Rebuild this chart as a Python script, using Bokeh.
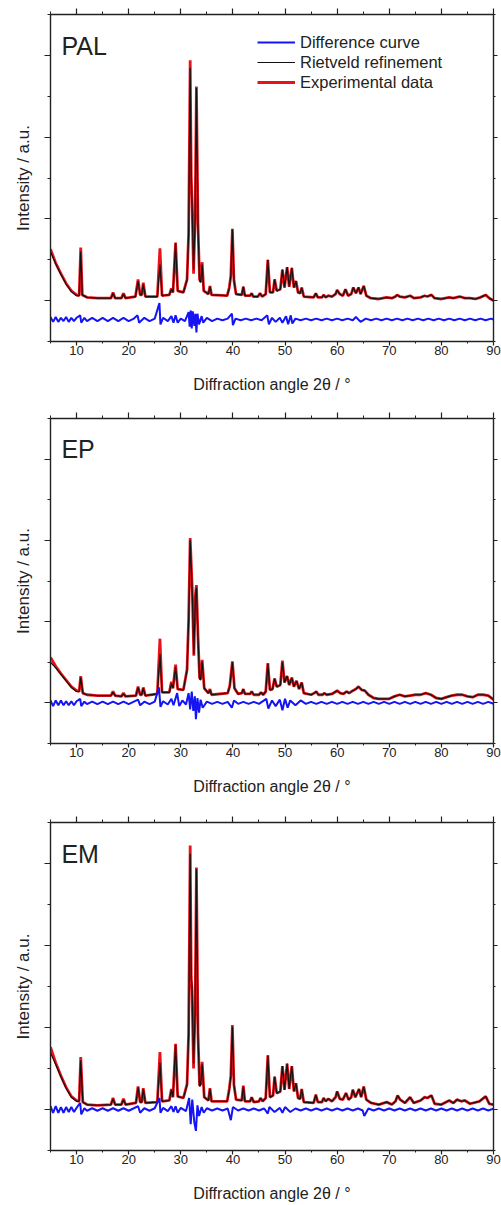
from bokeh.plotting import figure
from bokeh.models import Range1d, FixedTicker, LinearAxis, Label, Legend, LegendItem
from bokeh.layouts import column
from bokeh.embed import file_html
from bokeh.resources import INLINE

# ---------------- axis ticks ----------------
x_major = [10, 20, 30, 40, 50, 60, 70, 80, 90]
x_minor = [5, 15, 25, 35, 45, 55, 65, 75, 85]
y_major = [0, 1, 2, 3]
y_minor = [-0.5, 0.5, 1.5, 2.5, 3.5]

# ---------------- PAL ----------------
pal_x = [5.0, 6.0, 7.0, 8.0, 9.0, 10.0, 10.5, 10.8, 11.1, 12.0,
         14.0, 16.6, 17.0, 17.4, 18.6, 19.0, 19.4, 21.3, 21.8, 22.2,
         22.5, 22.8, 23.2, 25.5, 26.0, 26.4, 27.8, 28.2, 28.5, 29.0,
         29.4, 30.5, 31.2, 31.5, 31.8, 32.0, 32.15, 32.45, 32.75, 33.0,
         33.3, 33.6, 33.8, 34.1, 34.4, 35.3, 35.6, 35.9, 38.9, 39.3,
         39.6, 39.9, 40.2, 40.6, 41.7, 42.0, 42.3, 43.3, 43.6, 43.9,
         44.8, 45.2, 45.6, 46.3, 46.7, 47.1, 47.7, 48.0, 48.4, 49.1,
         49.5, 49.9, 50.4, 50.8, 51.3, 51.7, 52.1, 52.5, 52.9, 53.2,
         53.6, 55.5, 55.9, 56.3, 57.1, 57.4, 57.8, 58.3, 59.0, 59.7,
         60.0, 60.5, 61.1, 61.6, 62.1, 62.7, 63.1, 63.6, 64.1, 64.5,
         65.1, 65.6, 66.5, 68.0, 69.5, 70.5, 71.2, 71.5, 72.0, 73.0,
         74.0, 74.8, 76.0, 76.8, 77.3, 78.1, 78.7, 80.0, 81.5, 82.3,
         83.5, 84.5, 85.5, 86.5, 87.5, 88.5, 89.2, 90.0]
pal_calc = [0.60, 0.45, 0.32, 0.20, 0.11, 0.06, 0.06, 0.60, 0.07, 0.04,
            0.03, 0.03, 0.09, 0.03, 0.03, 0.08, 0.03, 0.05, 0.24, 0.07,
            0.07, 0.20, 0.05, 0.05, 0.44, 0.06, 0.07, 0.14, 0.10, 0.70,
            0.12, 0.10, 0.25, 0.80, 2.85, 1.50, 1.20, 0.38, 1.00, 2.60,
            0.90, 0.25, 0.22, 0.44, 0.12, 0.08, 0.17, 0.07, 0.06, 0.15,
            0.30, 0.87, 0.25, 0.08, 0.07, 0.17, 0.06, 0.06, 0.09, 0.05,
            0.05, 0.09, 0.05, 0.08, 0.50, 0.10, 0.10, 0.26, 0.12, 0.14,
            0.38, 0.16, 0.41, 0.17, 0.40, 0.16, 0.24, 0.10, 0.09, 0.16,
            0.05, 0.04, 0.09, 0.04, 0.04, 0.07, 0.04, 0.06, 0.05, 0.08,
            0.13, 0.08, 0.06, 0.14, 0.06, 0.08, 0.16, 0.09, 0.16, 0.08,
            0.18, 0.06, 0.03, 0.02, 0.04, 0.03, 0.05, 0.07, 0.05, 0.04,
            0.06, 0.03, 0.04, 0.06, 0.05, 0.07, 0.03, 0.02, 0.04, 0.03,
            0.05, 0.03, 0.03, 0.02, 0.04, 0.07, 0.03, 0.00]
pal_exp = [0.63, 0.46, 0.33, 0.21, 0.12, 0.07, 0.06, 0.65, 0.07, 0.04,
           0.03, 0.03, 0.10, 0.03, 0.03, 0.09, 0.03, 0.05, 0.26, 0.07,
           0.07, 0.22, 0.05, 0.05, 0.64, 0.06, 0.07, 0.15, 0.10, 0.71,
           0.12, 0.10, 0.26, 0.82, 2.94, 1.52, 1.25, 0.33, 1.02, 2.62,
           0.92, 0.26, 0.23, 0.47, 0.12, 0.08, 0.18, 0.07, 0.06, 0.16,
           0.30, 0.88, 0.25, 0.08, 0.07, 0.17, 0.06, 0.06, 0.09, 0.05,
           0.05, 0.09, 0.05, 0.08, 0.50, 0.10, 0.10, 0.26, 0.12, 0.14,
           0.38, 0.16, 0.41, 0.17, 0.40, 0.16, 0.24, 0.10, 0.09, 0.16,
           0.05, 0.04, 0.09, 0.04, 0.04, 0.07, 0.04, 0.06, 0.05, 0.08,
           0.13, 0.08, 0.06, 0.14, 0.06, 0.08, 0.16, 0.09, 0.16, 0.08,
           0.18, 0.06, 0.03, 0.02, 0.04, 0.03, 0.05, 0.07, 0.05, 0.04,
           0.06, 0.03, 0.04, 0.06, 0.05, 0.07, 0.03, 0.02, 0.04, 0.03,
           0.05, 0.03, 0.03, 0.02, 0.04, 0.07, 0.03, 0.00]
pal_diff_x = [5.0, 5.5, 6.0, 6.5, 7.0, 7.5, 8.0, 8.5, 9.0, 9.5,
              10.0, 10.7, 10.9, 11.5, 12.0, 13.0, 14.0, 15.0, 16.0, 17.0,
              18.0, 19.0, 20.0, 21.0, 21.7, 22.0, 23.0, 24.0, 25.0, 25.9,
              26.1, 26.6, 27.5, 28.2, 28.6, 29.0, 29.4, 30.0, 30.8, 31.5,
              31.7, 31.9, 32.1, 32.3, 32.6, 32.8, 33.0, 33.2, 33.5, 34.0,
              34.3, 35.0, 36.0, 37.0, 38.0, 39.0, 39.8, 40.0, 40.5, 41.5,
              42.5, 43.5, 44.5, 45.5, 46.6, 46.9, 47.5, 48.2, 49.0, 49.5,
              50.2, 50.6, 51.1, 51.4, 52.0, 53.0, 54.0, 55.0, 56.0, 57.0,
              58.0, 59.0, 60.0, 61.0, 62.0, 63.0, 63.6, 64.5, 65.5, 66.5,
              67.5, 68.5, 69.5, 70.5, 71.5, 72.5, 73.5, 74.5, 75.5, 76.5,
              77.5, 78.5, 79.5, 80.5, 81.5, 82.5, 83.5, 84.5, 85.5, 86.5,
              87.5, 88.5, 89.5, 90.0]
pal_diff = [-0.20, -0.26, -0.20, -0.26, -0.21, -0.25, -0.20, -0.26, -0.21, -0.25,
            -0.21, -0.18, -0.27, -0.21, -0.25, -0.21, -0.25, -0.21, -0.25, -0.21,
            -0.25, -0.21, -0.25, -0.22, -0.18, -0.27, -0.21, -0.25, -0.22, -0.03,
            -0.29, -0.21, -0.25, -0.19, -0.27, -0.18, -0.27, -0.22, -0.25, -0.14,
            -0.32, -0.12, -0.34, -0.13, -0.31, -0.16, -0.39, -0.16, -0.29, -0.19,
            -0.27, -0.21, -0.25, -0.22, -0.24, -0.22, -0.16, -0.30, -0.22, -0.24,
            -0.22, -0.24, -0.22, -0.24, -0.18, -0.29, -0.21, -0.26, -0.21, -0.27,
            -0.19, -0.29, -0.18, -0.28, -0.22, -0.24, -0.22, -0.24, -0.22, -0.24,
            -0.22, -0.24, -0.22, -0.24, -0.22, -0.24, -0.20, -0.26, -0.22, -0.24,
            -0.22, -0.24, -0.22, -0.24, -0.22, -0.24, -0.22, -0.24, -0.22, -0.24,
            -0.22, -0.24, -0.22, -0.24, -0.22, -0.24, -0.22, -0.24, -0.22, -0.24,
            -0.22, -0.24, -0.22, -0.23]

# ---------------- EP ----------------
ep_x = [5.0, 6.0, 7.0, 8.0, 9.0, 10.0, 10.5, 10.8, 11.2, 12.0,
        14.0, 16.6, 17.0, 17.4, 18.6, 19.0, 19.4, 21.4, 21.8, 22.2,
        22.5, 22.8, 23.2, 25.5, 26.0, 26.4, 27.8, 28.2, 28.5, 29.0,
        29.4, 30.5, 31.2, 31.5, 31.8, 32.2, 32.5, 32.8, 33.0, 33.3,
        33.6, 33.8, 34.1, 34.5, 35.3, 35.6, 35.9, 39.0, 39.4, 39.9,
        40.3, 41.0, 41.7, 42.0, 42.3, 43.3, 43.6, 44.0, 45.0, 45.4,
        45.8, 46.3, 46.7, 47.1, 47.6, 48.0, 48.4, 49.1, 49.5, 49.9,
        50.4, 50.8, 51.3, 51.7, 52.2, 52.7, 53.2, 53.6, 55.0, 55.6,
        56.0, 56.4, 57.2, 57.5, 58.0, 59.0, 60.0, 60.6, 61.2, 61.8,
        62.3, 63.0, 63.6, 64.1, 64.7, 65.3, 66.0, 67.0, 68.0, 70.0,
        71.0, 72.0, 73.0, 74.0, 75.0, 76.0, 77.0, 78.0, 79.0, 80.0,
        81.0, 82.0, 83.0, 84.0, 85.0, 86.0, 87.0, 88.0, 89.0, 90.0]
ep_calc = [0.50, 0.43, 0.35, 0.27, 0.19, 0.14, 0.14, 0.31, 0.12, 0.10,
           0.09, 0.09, 0.13, 0.09, 0.08, 0.11, 0.08, 0.09, 0.19, 0.10,
           0.10, 0.18, 0.09, 0.11, 0.60, 0.13, 0.13, 0.24, 0.18, 0.44,
           0.17, 0.16, 0.40, 1.00, 2.00, 1.35, 0.60, 1.30, 1.42, 0.80,
           0.30, 0.28, 0.51, 0.18, 0.12, 0.16, 0.10, 0.12, 0.20, 0.50,
           0.18, 0.11, 0.12, 0.17, 0.11, 0.11, 0.14, 0.10, 0.10, 0.13,
           0.10, 0.14, 0.48, 0.16, 0.17, 0.30, 0.20, 0.22, 0.50, 0.25,
           0.33, 0.22, 0.31, 0.20, 0.27, 0.17, 0.25, 0.12, 0.10, 0.12,
           0.14, 0.10, 0.10, 0.12, 0.10, 0.11, 0.15, 0.12, 0.11, 0.14,
           0.12, 0.15, 0.17, 0.20, 0.16, 0.15, 0.10, 0.06, 0.05, 0.05,
           0.08, 0.10, 0.08, 0.09, 0.10, 0.10, 0.12, 0.10, 0.06, 0.05,
           0.07, 0.09, 0.10, 0.10, 0.08, 0.07, 0.10, 0.10, 0.09, 0.04]
ep_exp = [0.56, 0.45, 0.36, 0.28, 0.20, 0.15, 0.14, 0.33, 0.12, 0.10,
          0.09, 0.09, 0.14, 0.09, 0.08, 0.12, 0.08, 0.09, 0.20, 0.10,
          0.10, 0.19, 0.09, 0.11, 0.79, 0.13, 0.13, 0.26, 0.18, 0.47,
          0.17, 0.16, 0.41, 1.02, 2.03, 1.40, 0.58, 1.33, 1.45, 0.82,
          0.31, 0.29, 0.53, 0.18, 0.12, 0.17, 0.10, 0.12, 0.21, 0.51,
          0.18, 0.11, 0.12, 0.17, 0.11, 0.11, 0.14, 0.10, 0.10, 0.13,
          0.10, 0.14, 0.49, 0.16, 0.17, 0.30, 0.20, 0.22, 0.52, 0.25,
          0.33, 0.22, 0.31, 0.20, 0.27, 0.17, 0.25, 0.12, 0.10, 0.12,
          0.14, 0.10, 0.10, 0.12, 0.10, 0.11, 0.15, 0.12, 0.11, 0.14,
          0.12, 0.15, 0.17, 0.20, 0.16, 0.15, 0.10, 0.06, 0.05, 0.05,
          0.08, 0.10, 0.08, 0.09, 0.10, 0.10, 0.12, 0.10, 0.06, 0.05,
          0.07, 0.09, 0.10, 0.10, 0.08, 0.07, 0.10, 0.10, 0.09, 0.04]
ep_diff_x = [5.0, 5.5, 6.0, 6.5, 7.0, 7.5, 8.0, 8.5, 9.0, 9.5,
             10.0, 10.7, 10.9, 11.5, 12.0, 13.0, 14.0, 15.0, 16.0, 17.0,
             18.0, 19.0, 20.0, 21.0, 21.8, 22.2, 23.0, 24.0, 25.0, 25.8,
             26.1, 26.6, 27.5, 28.2, 28.6, 29.3, 29.7, 30.3, 31.0, 31.5,
             31.8, 32.1, 32.4, 32.7, 32.9, 33.2, 33.5, 33.8, 34.2, 35.0,
             36.0, 37.0, 38.0, 39.0, 39.8, 40.2, 41.0, 42.0, 43.0, 44.0,
             45.0, 46.4, 46.8, 47.5, 48.2, 49.0, 49.5, 50.0, 50.5, 51.0,
             52.0, 53.0, 54.0, 55.0, 56.0, 57.0, 58.0, 59.0, 60.0, 61.0,
             62.0, 63.0, 64.0, 65.0, 66.0, 67.0, 68.0, 69.0, 70.0, 71.0,
             72.0, 73.0, 74.0, 75.0, 76.0, 77.0, 78.0, 79.0, 80.0, 81.0,
             82.0, 83.0, 84.0, 85.0, 86.0, 87.0, 88.0, 89.0, 90.0]
ep_diff = [0.03, -0.04, 0.03, -0.03, 0.03, -0.03, 0.02, -0.03, 0.02, -0.03,
           0.02, 0.05, -0.04, 0.015, -0.015, 0.015, -0.015, 0.015, -0.015, 0.015,
           -0.015, 0.015, -0.015, 0.015, 0.04, -0.03, 0.015, -0.015, 0.015, 0.19,
           -0.05, 0.02, -0.02, 0.05, -0.03, 0.12, -0.04, 0.03, -0.02, 0.12,
           -0.08, 0.14, -0.10, 0.08, -0.20, 0.06, -0.12, 0.04, -0.06, 0.015,
           -0.012, 0.012, -0.012, 0.012, -0.06, 0.03, -0.012, 0.012, -0.012, 0.012,
           -0.012, 0.05, -0.07, 0.03, -0.04, 0.04, -0.09, 0.05, -0.06, 0.03,
           -0.03, 0.03, -0.012, 0.012, -0.012, 0.012, -0.012, 0.012, -0.012, 0.012,
           -0.012, 0.012, -0.012, 0.012, -0.012, 0.012, -0.012, 0.012, -0.012, 0.012,
           -0.012, 0.012, -0.012, 0.012, -0.012, 0.012, -0.012, 0.012, -0.012, 0.012,
           -0.012, 0.012, -0.012, 0.012, -0.012, 0.012, -0.012, 0.012, -0.01]

# ---------------- EM ----------------
em_x = [5.0, 6.0, 7.0, 8.0, 9.0, 10.0, 10.5, 10.8, 11.2, 12.0,
        14.0, 16.6, 17.0, 17.4, 18.6, 19.0, 19.4, 21.4, 21.8, 22.2,
        22.5, 22.8, 23.2, 25.5, 26.0, 26.4, 27.8, 28.2, 28.5, 29.0,
        29.4, 30.5, 31.2, 31.5, 31.8, 32.0, 32.15, 32.45, 32.75, 33.0,
        33.3, 33.6, 33.8, 34.1, 34.5, 35.3, 35.6, 35.9, 38.9, 39.3,
        39.6, 39.9, 40.2, 40.6, 41.7, 42.0, 42.3, 43.3, 43.6, 44.0,
        45.0, 45.3, 45.7, 46.3, 46.7, 47.1, 47.7, 48.0, 48.4, 49.1,
        49.5, 49.9, 50.4, 50.8, 51.3, 51.7, 52.1, 52.5, 52.9, 53.2,
        53.6, 55.5, 55.9, 56.3, 57.1, 57.4, 57.8, 58.3, 59.0, 59.7,
        60.0, 60.5, 61.1, 61.7, 62.2, 62.7, 63.0, 63.5, 64.2, 64.6,
        65.1, 65.6, 66.5, 68.0, 69.5, 70.5, 71.2, 71.6, 72.1, 73.0,
        74.0, 74.7, 76.0, 76.8, 77.3, 78.1, 78.7, 80.0, 81.5, 82.3,
        83.0, 83.8, 84.5, 85.5, 87.3, 88.5, 89.2, 90.0]
em_calc = [0.69, 0.55, 0.40, 0.26, 0.15, 0.10, 0.10, 0.60, 0.09, 0.06,
           0.05, 0.06, 0.13, 0.06, 0.06, 0.12, 0.06, 0.08, 0.27, 0.09,
           0.09, 0.25, 0.08, 0.09, 0.57, 0.10, 0.11, 0.24, 0.15, 0.79,
           0.16, 0.14, 0.30, 0.90, 3.12, 1.60, 1.50, 0.56, 1.20, 2.93,
           0.90, 0.28, 0.30, 0.55, 0.15, 0.11, 0.25, 0.10, 0.10, 0.24,
           0.40, 1.01, 0.30, 0.12, 0.11, 0.28, 0.10, 0.10, 0.15, 0.09,
           0.10, 0.14, 0.10, 0.14, 0.66, 0.15, 0.17, 0.40, 0.20, 0.22,
           0.53, 0.24, 0.56, 0.25, 0.53, 0.22, 0.32, 0.14, 0.13, 0.25,
           0.09, 0.08, 0.18, 0.09, 0.09, 0.14, 0.10, 0.13, 0.10, 0.15,
           0.22, 0.13, 0.12, 0.20, 0.12, 0.15, 0.24, 0.15, 0.25, 0.15,
           0.28, 0.12, 0.08, 0.06, 0.09, 0.06, 0.10, 0.17, 0.12, 0.08,
           0.15, 0.08, 0.11, 0.15, 0.14, 0.17, 0.07, 0.06, 0.11, 0.08,
           0.12, 0.10, 0.11, 0.07, 0.10, 0.16, 0.07, 0.06]
em_exp = [0.76, 0.57, 0.41, 0.27, 0.16, 0.11, 0.10, 0.64, 0.09, 0.06,
          0.05, 0.06, 0.14, 0.06, 0.06, 0.13, 0.06, 0.08, 0.28, 0.09,
          0.09, 0.26, 0.08, 0.09, 0.70, 0.10, 0.11, 0.25, 0.15, 0.80,
          0.16, 0.14, 0.31, 0.92, 3.22, 1.62, 1.45, 0.50, 1.22, 2.95,
          0.92, 0.29, 0.31, 0.58, 0.15, 0.11, 0.26, 0.10, 0.10, 0.25,
          0.41, 1.03, 0.30, 0.12, 0.11, 0.29, 0.10, 0.10, 0.15, 0.09,
          0.10, 0.14, 0.10, 0.14, 0.66, 0.15, 0.17, 0.40, 0.20, 0.22,
          0.53, 0.24, 0.56, 0.25, 0.53, 0.22, 0.32, 0.14, 0.13, 0.25,
          0.09, 0.08, 0.18, 0.09, 0.09, 0.14, 0.10, 0.13, 0.10, 0.15,
          0.22, 0.13, 0.12, 0.20, 0.12, 0.15, 0.24, 0.15, 0.25, 0.15,
          0.28, 0.12, 0.08, 0.06, 0.09, 0.06, 0.10, 0.17, 0.12, 0.08,
          0.15, 0.08, 0.11, 0.15, 0.14, 0.17, 0.07, 0.06, 0.11, 0.08,
          0.12, 0.10, 0.11, 0.07, 0.10, 0.16, 0.07, 0.06]
em_diff_x = [5.0, 5.5, 6.0, 6.5, 7.0, 7.5, 8.0, 8.5, 9.0, 9.5,
             10.0, 10.7, 10.9, 11.5, 12.0, 13.0, 14.0, 15.0, 16.0, 17.0,
             18.0, 19.0, 20.0, 21.0, 21.8, 22.2, 23.0, 24.0, 25.0, 25.9,
             26.1, 26.6, 27.5, 28.2, 28.6, 29.0, 29.4, 30.0, 31.0, 31.6,
             31.9, 32.2, 32.6, 32.9, 33.2, 33.5, 34.0, 34.4, 35.0, 36.0,
             37.0, 38.0, 39.0, 39.6, 40.0, 41.0, 42.0, 43.0, 44.0, 45.0,
             46.0, 46.7, 47.0, 48.0, 49.0, 49.5, 50.0, 51.0, 52.0, 53.0,
             54.0, 55.0, 56.0, 57.0, 58.0, 59.0, 60.0, 61.0, 62.0, 63.0,
             64.0, 64.9, 65.2, 66.0, 67.0, 68.0, 69.0, 70.0, 71.0, 72.0,
             73.0, 74.0, 75.0, 76.0, 77.0, 78.0, 79.0, 80.0, 81.0, 82.0,
             83.0, 84.0, 85.0, 86.0, 87.0, 88.0, 89.0, 90.0]
em_diff = [0.04, -0.04, 0.04, -0.04, 0.03, -0.04, 0.03, -0.03, 0.03, -0.03,
           0.02, 0.08, -0.06, 0.015, -0.015, 0.015, -0.015, 0.015, -0.015, 0.015,
           -0.015, 0.015, -0.015, 0.015, 0.04, -0.04, 0.015, -0.015, 0.015, 0.14,
           -0.04, 0.02, -0.02, 0.04, -0.03, 0.04, -0.04, 0.02, -0.02, 0.14,
           -0.18, 0.12, -0.16, -0.26, 0.05, -0.08, 0.03, -0.04, 0.015, -0.012,
           0.012, -0.012, 0.012, -0.13, 0.03, -0.012, 0.012, -0.012, 0.012, -0.012,
           0.012, -0.05, 0.03, -0.03, 0.02, -0.04, 0.03, -0.03, 0.012, -0.012,
           0.012, -0.012, 0.012, -0.012, 0.012, -0.012, 0.012, -0.012, 0.012, -0.012,
           0.012, -0.012, -0.08, 0.012, -0.012, 0.012, -0.012, 0.012, -0.012, 0.012,
           -0.012, 0.012, -0.012, 0.012, -0.012, 0.012, -0.012, 0.012, -0.012, 0.012,
           -0.012, 0.012, -0.012, 0.012, -0.012, 0.012, -0.012, 0.01]

assert len(pal_x) == len(pal_calc) == len(pal_exp)
assert len(pal_diff_x) == len(pal_diff)
assert len(ep_x) == len(ep_calc) == len(ep_exp)
assert len(ep_diff_x) == len(ep_diff)
assert len(em_x) == len(em_calc) == len(em_exp)
assert len(em_diff_x) == len(em_diff)

FONT = "Liberation Sans"
INK = "#222222"
RED = "#e8121a"
BLACK = "#111111"
BLUE = "#1414f5"


def style_axis(ax, labels=True, tick_out=6, minor_out=3):
    ax.axis_line_color = INK
    ax.axis_line_width = 1.4
    ax.major_tick_line_color = INK
    ax.major_tick_line_width = 1.2
    ax.minor_tick_line_color = INK
    ax.minor_tick_line_width = 1.0
    ax.major_tick_in = 0
    ax.major_tick_out = tick_out
    ax.minor_tick_in = 0
    ax.minor_tick_out = minor_out
    ax.major_label_text_font = FONT
    if labels:
        ax.major_label_text_color = INK
        ax.major_label_text_font_size = "13px"
        ax.major_label_standoff = 0
    else:
        ax.major_label_text_color = None
        ax.major_label_text_font_size = "1px"
        ax.major_label_standoff = 0
    ax.axis_label_text_font = FONT
    ax.axis_label_text_color = INK
    ax.axis_label_text_font_style = "normal"


def make_panel(name, x, calc, exp, dx, dy, height, top, bottom, legend=False):
    p = figure(width=501, height=height,
               x_range=Range1d(5, 90), y_range=Range1d(-0.5, 3.5),
               output_backend="svg", toolbar_location=None,
               min_border_left=50, min_border_right=8,
               min_border_top=top, min_border_bottom=bottom)
    p.xgrid.visible = False
    p.ygrid.visible = False
    p.outline_line_color = None
    p.background_fill_color = "white"
    p.border_fill_color = "white"

    xa = p.xaxis[0]
    xa.ticker = FixedTicker(ticks=x_major, minor_ticks=x_minor)
    style_axis(xa, labels=True, tick_out=4, minor_out=2)
    xa.axis_label = "Diffraction angle 2θ / °"
    xa.axis_label_text_font_size = "16px"
    xa.axis_label_standoff = 18

    ya = p.yaxis[0]
    ya.ticker = FixedTicker(ticks=y_major, minor_ticks=y_minor)
    style_axis(ya, labels=False, tick_out=6, minor_out=3)
    ya.axis_label = "Intensity / a.u."
    ya.axis_label_text_font_size = "17px"
    ya.axis_label_standoff = 12

    top_ax = LinearAxis(ticker=FixedTicker(ticks=x_major, minor_ticks=x_minor))
    style_axis(top_ax, labels=False, tick_out=6, minor_out=3)
    p.add_layout(top_ax, "above")
    right_ax = LinearAxis(ticker=FixedTicker(ticks=y_major, minor_ticks=y_minor))
    style_axis(right_ax, labels=False, tick_out=4, minor_out=2)
    p.add_layout(right_ax, "right")

    r_exp = p.line(x, exp, line_color=RED, line_width=2.8)
    r_calc = p.line(x, calc, line_color=BLACK, line_width=1.2)
    r_diff = p.line(dx, dy, line_color=BLUE, line_width=2.0)

    p.add_layout(Label(x=7.1, y=3.12, text=name, text_font=FONT,
                       text_font_size="25px", text_color=INK,
                       text_baseline="alphabetic"))

    if legend:
        leg = Legend(items=[LegendItem(label="Difference curve", renderers=[r_diff]),
                            LegendItem(label="Rietveld refinement", renderers=[r_calc]),
                            LegendItem(label="Experimental data", renderers=[r_exp])],
                     location=(207, 249), orientation="vertical",
                     glyph_width=38, glyph_height=20, label_height=20,
                     label_standoff=5, spacing=0, padding=0, margin=0,
                     label_text_font=FONT, label_text_font_size="16.5px",
                     label_text_color=INK, border_line_color=None,
                     background_fill_alpha=0)
        p.add_layout(leg)
    return p


p1 = make_panel("PAL", pal_x, pal_calc, pal_exp, pal_diff_x, pal_diff, 404, 14, 63, legend=True)
p2 = make_panel("EP", ep_x, ep_calc, ep_exp, ep_diff_x, ep_diff, 404, 14, 65)
p3 = make_panel("EM", em_x, em_calc, em_exp, em_diff_x, em_diff, 397, 14, 55)

layout = column(p1, p2, p3, spacing=0)
open("out.html", "w").write(file_html(layout, INLINE))
